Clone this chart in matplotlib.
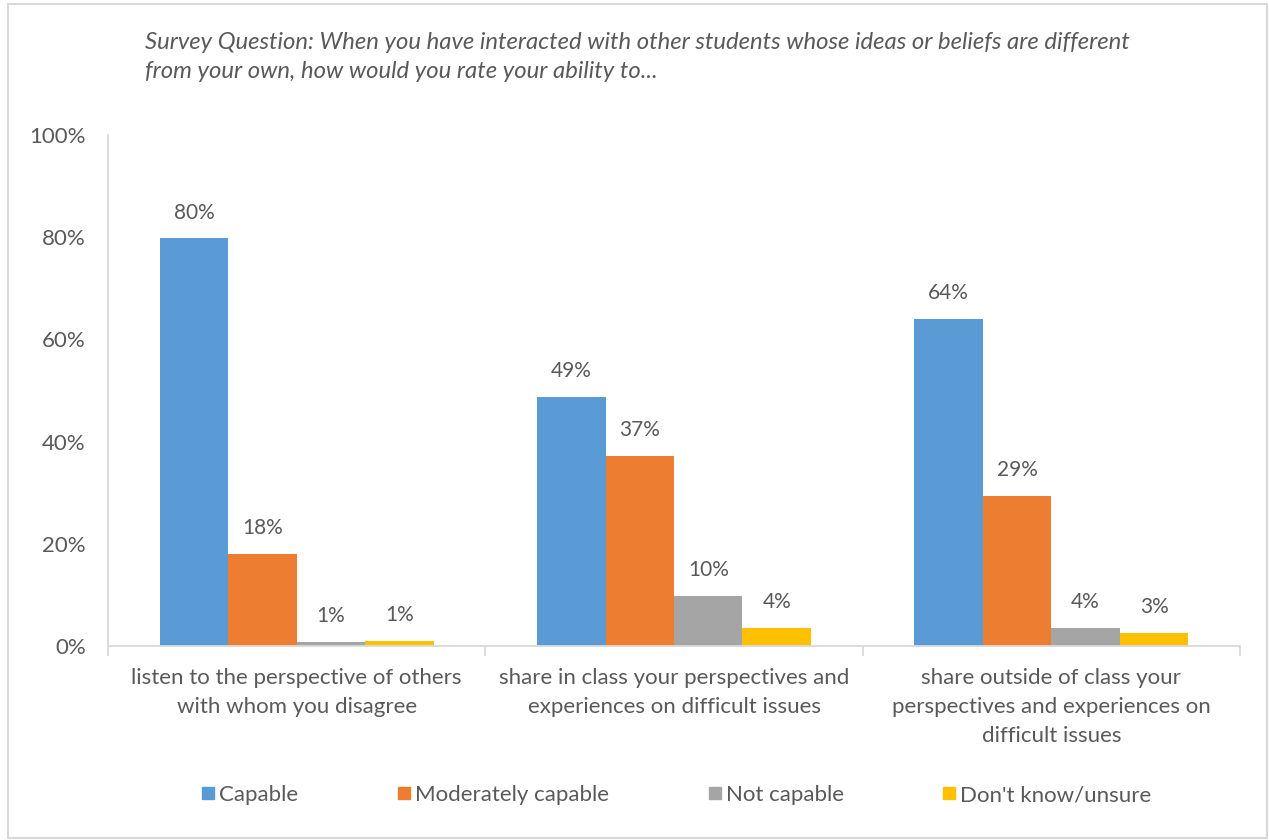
import matplotlib
matplotlib.use("Agg")
import matplotlib.pyplot as plt
import numpy as np
from matplotlib.lines import Line2D
from matplotlib.patches import Rectangle

plt.rcParams['font.family'] = ['Lato', 'DejaVu Sans']

categories = [
    "listen to the perspective of others\nwith whom you disagree",
    "share in class your perspectives and\nexperiences on difficult issues",
    "share outside of class your\nperspectives and experiences on\ndifficult issues",
]
series_names = ["Capable", "Moderately capable", "Not capable", "Don't know/unsure"]
capable = [79.8, 48.7, 64.0]
moderately = [18.0, 37.2, 29.4]
not_capable = [0.8, 9.8, 3.6]
unsure = [1.0, 3.6, 2.6]
y_ticks = [0, 20, 40, 60, 80, 100]
title_text = ("Survey Question: When you have interacted with other students whose ideas or beliefs are different\n"
              "from your own, how would you rate your ability to...")

colors = ["#5B9BD5", "#ED7D31", "#A5A5A5", "#FFC000"]
text_color = "#595959"
line_color = "#D9D9D9"

W, H = 1269, 840
fig = plt.figure(figsize=(W / 100, H / 100), dpi=100)
ax = fig.add_axes([108 / W, 1 - 646 / H, (1240 - 108) / W, (646 - 135) / H])

x = np.arange(len(categories))
bar_w = 0.1815
all_series = [capable, moderately, not_capable, unsure]
for i, (vals, col) in enumerate(zip(all_series, colors)):
    pos = x + (i - 1.5) * bar_w
    bars = ax.bar(pos, vals, width=bar_w, color=col, edgecolor="none")
    for b, v in zip(bars, vals):
        ax.annotate(f"{v:.0f}%", (b.get_x() + b.get_width() / 2, v),
                    xytext=(0, 18.5), textcoords="offset points",
                    ha="center", va="center", fontsize=15, color=text_color)

ax.set_xlim(-0.5, len(categories) - 0.5)
ax.set_ylim(0, 100)
ax.set_yticks(y_ticks)
ax.set_yticklabels([f"{t}%" for t in y_ticks], fontsize=16, color=text_color)
ax.tick_params(axis="y", length=0, pad=16)

ax.set_xticks(x)
ax.set_xticklabels(categories, fontsize=16, color=text_color, linespacing=1.57)
ax.tick_params(axis="x", length=0, pad=16)
# boundary tick marks between categories
ax.set_xticks(np.arange(-0.5, len(categories)), minor=True)
ax.tick_params(axis="x", which="minor", length=7, color=line_color, width=1.3)

for s in ["top", "right"]:
    ax.spines[s].set_visible(False)
for s in ["left", "bottom"]:
    ax.spines[s].set_color(line_color)
    ax.spines[s].set_linewidth(1.3)

fig.text(145 / W, 1 - 57 / H, title_text, fontsize=17.2, style="italic",
         color=text_color, ha="left", va="center", linespacing=1.42)

handles = [Line2D([], [], marker="s", linestyle="none", markersize=9,
                  markerfacecolor=c, markeredgecolor=c) for c in colors]
fig.legend(handles, series_names, loc="center", bbox_to_anchor=(676 / W, 1 - 795 / H),
           ncol=4, frameon=False, fontsize=16, labelcolor=text_color,
           handlelength=0.7, handletextpad=0.15, columnspacing=4.4)

fig.add_artist(Rectangle((8 / W, 2 / H), 1259 / W, 834 / H, transform=fig.transFigure,
                         fill=False, edgecolor=line_color, linewidth=1.5))

fig.savefig("out.png", dpi=100, facecolor="white")
